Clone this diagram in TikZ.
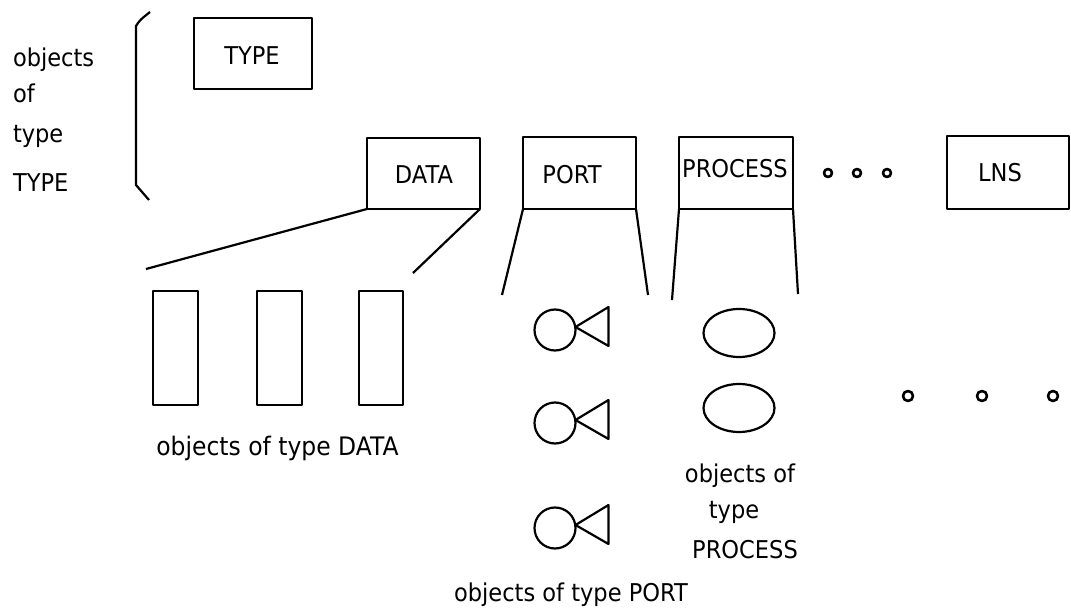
\documentclass[tikz,border=0pt]{standalone}
\usepackage{fontspec}
\setmainfont{DejaVu Sans}[FakeStretch=0.92]
\usetikzlibrary{shapes.geometric}
\begin{document}
\begin{tikzpicture}[x=1pt,y=-1pt,line width=2.2pt,line join=round,
  txt/.style={inner sep=0pt,outer sep=0pt,font=\fontsize{24.5}{28}\selectfont},
  typebox/.style={draw,inner sep=0pt,outer sep=0pt,minimum width=#1,minimum height=72pt},
  objrect/.style={draw,inner sep=0pt,outer sep=0pt,minimum width=45pt,minimum height=114pt},
  procobj/.style={draw,ellipse,inner sep=0pt,outer sep=0pt,minimum width=71pt,minimum height=48pt},
  portball/.style={draw,circle,inner sep=0pt,outer sep=0pt,minimum size=41pt},
  dot/.style={draw,circle,line width=2.6pt,inner sep=0pt,outer sep=0pt,minimum size=#1}]
\useasboundingbox (0,0) rectangle (1071,609);
% left caption and bracket
\node[txt,anchor=base west] (c1) at (13,67) {objects};
\node[txt,anchor=base west] (c2) at (13,103) {of};
\node[txt,anchor=base west] (c3) at (13,143) {type};
\node[txt,anchor=base west] (c4) at (13,192) {TYPE};
\coordinate (b1) at (150,12);
\coordinate (b2) at (136,26);
\coordinate (b3) at (136,185);
\coordinate (b4) at (149,200);
\draw (b1) .. controls (140,20) .. (b2) -- (b3) -- (b4);
% type boxes
\node[typebox=118pt,minimum height=71pt] (type) at (253,53.5) {};
\node[txt] (typel) at (252,56) {TYPE};
\node[typebox=113pt,minimum height=71pt] (data) at (423.5,173.5) {};
\node[txt] (datal) at (424,175) {DATA};
\node[typebox=113pt] (port) at (579.5,173) {};
\node[txt] (portl) at (572,175) {PORT};
\node[typebox=114pt] (proc) at (736,173) {};
\node[txt] (procl) at (735,169) {PROCESS};
\node[typebox=122pt,minimum height=73pt] (lns) at (1008,172.5) {};
\node[txt] (lnsl) at (1000,173) {LNS};
\node[dot=8pt] (d1) at (828,173) {};
\node[dot=8pt] (d2) at (857,173) {};
\node[dot=8pt] (d3) at (887,173) {};
% fan-out lines
\coordinate (dl) at (146,269);
\coordinate (dr) at (413,273);
\coordinate (pl) at (502,295);
\coordinate (pr) at (648,295);
\coordinate (ql) at (672,300);
\coordinate (qr) at (798,294);
\draw (data.south west) -- (dl);
\draw (data.south east) -- (dr);
\draw (port.south west) -- (pl);
\draw (port.south east) -- (pr);
\draw (proc.south west) -- (ql);
\draw (proc.south east) -- (qr);
% DATA objects
\node[objrect] (r1) at (175.5,348) {};
\node[objrect] (r2) at (279.5,348) {};
\node[objrect,minimum width=44pt] (r3) at (381,348) {};
\node[txt,anchor=base,font=\fontsize{25.5}{29}\selectfont] (dcap) at (277.5,455) {objects of type DATA};
% PORT objects
\foreach \n/\c in {1/330,2/423,3/528}{
  \node[portball] (pb\n) at (555,\c) {};
  \draw (pb\n.east) ++(0,-3) -- ++(33,-20) -- ++(0,39) -- cycle;
}
\node[txt,anchor=base] (pcap) at (571,601) {objects of type PORT};
% PROCESS objects
\node[procobj] (e1) at (739,333) {};
\node[procobj] (e2) at (739,408) {};
\node[txt,anchor=base] (q1) at (740,482) {objects of};
\node[txt,anchor=base] (q2) at (734,518) {type};
\node[txt,anchor=base] (q3) at (745,558) {PROCESS};
% trailing dots
\node[dot=10pt] (f1) at (908,396) {};
\node[dot=10pt] (f2) at (982,396) {};
\node[dot=10pt] (f3) at (1053,396) {};
\end{tikzpicture}
\end{document}
